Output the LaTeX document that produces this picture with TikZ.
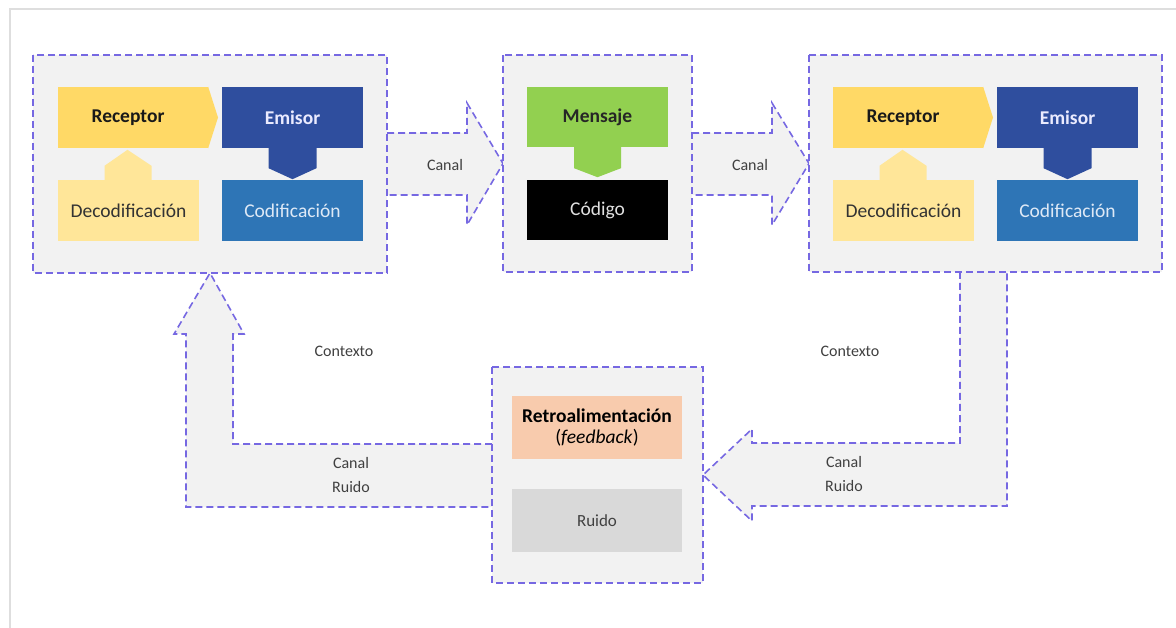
\documentclass[tikz,border=0pt]{standalone}
\usepackage{fontspec}
\setmainfont{Carlito}
\usetikzlibrary{calc}
\definecolor{dashc}{RGB}{118,104,226}
\definecolor{panel}{RGB}{242,242,242}
\definecolor{framegray}{RGB}{222,222,222}
\definecolor{recyel}{RGB}{255,217,102}
\definecolor{decyel}{RGB}{255,230,153}
\definecolor{emiblue}{RGB}{47,78,158}
\definecolor{codblue}{RGB}{46,117,182}
\definecolor{mengreen}{RGB}{146,208,80}
\definecolor{retropeach}{RGB}{248,203,173}
\definecolor{ruidogray}{RGB}{217,217,217}
\definecolor{labelc}{RGB}{64,64,64}
\definecolor{lighttxt}{RGB}{222,233,246}
\begin{document}
\begin{tikzpicture}[x=1pt,y=-1pt,
  txt/.style={font=\fontsize{19.5}{23}\selectfont},
  btxt/.style={font=\fontsize{19.5}{23}\selectfont\bfseries},
  gshape/.style={inner sep=0pt, outer sep=0pt},
  groupline/.style={draw=dashc, dash pattern=on 7pt off 4pt, line width=1.6pt, fill=panel},
  blockarrow/.style={draw=dashc, dash pattern=on 7pt off 4pt, line width=1.6pt, fill=panel},
  box/.style={inner sep=0pt, minimum width=141pt, minimum height=61pt, txt},
  lbl/.style={text=labelc, font=\fontsize{16}{20}\selectfont, align=center}
]
\useasboundingbox (0,0) rectangle (1176,628);
\draw[framegray, line width=1.5pt] (10,628) -- (10,9) -- (1176,9);

% group frames (placed first for anchors, drawn after the arrows)
\node[gshape, minimum width=354pt, minimum height=218pt] (g1) at (210,164) {};
\node[gshape, minimum width=189pt, minimum height=217pt] (g2) at (597.5,163.5) {};
\node[gshape, minimum width=353pt, minimum height=217pt] (g3) at (985.5,163.5) {};
\node[gshape, minimum width=211pt, minimum height=216pt] (g4) at (597.5,475) {};

% block arrows
\path[blockarrow] (g1.east |- 0,133) -- (467,133) -- (467,103) -- (g2.west) -- (467,225) -- (467,195) -- (g1.east |- 0,195);
\path[blockarrow] (g2.east |- 0,133) -- (772,133) -- (772,103) -- (g3.west) -- (772,225) -- (772,195) -- (g2.east |- 0,195);
\path[blockarrow] (g4.west |- 0,444) -- (233,444) -- (233,334) -- (244,334) -- (g1.south) -- (174,334) -- (186,334) -- (186,507) -- (g4.west |- 0,507);
\path[blockarrow] (960,0 |- g3.south) -- (960,443) -- (752,443) -- (752,429) -- (g4.east) -- (752,521) -- (752,506) -- (1007,506) -- (1007,0 |- g3.south);

% group frames drawn
\foreach \g in {g1,g2,g3,g4}
  \path[groupline] (\g.north west) rectangle (\g.south east);

% left group
\node[box, fill=recyel, minimum width=150pt] (rec1) at (133,117.5) {};
\fill[recyel] (rec1.north east) -- (218,117.5) -- (rec1.south east) -- cycle;
\node[btxt, text=black!90] (rec1t) at (128,117.5) {Receptor};
\node[box, fill=emiblue, text=white!92!blue, btxt] (emi1) at (292.5,117.5) {Emisor};
\node[box, fill=decyel, text=black!80] (dec1) at (128.5,210.5) {Decodificación};
\node[box, fill=codblue, text=lighttxt] (cod1) at (292.5,210.5) {Codificación};
\fill[emiblue] ($(emi1.south)+(-24,0)$) -- ++(0,20) -- ($(emi1.south)+(0,31)$) -- ($(emi1.south)+(24,20)$) -- ($(emi1.south)+(24,0)$) -- cycle;
\fill[decyel] ($(dec1.north)+(-24,0)$) -- ++(0,-14) -- ($(dec1.north)+(-1,-30)$) -- ($(dec1.north)+(23,-14)$) -- ($(dec1.north)+(23,0)$) -- cycle;

% middle group
\node[box, fill=mengreen, minimum height=60pt, text=black!85, btxt] (men) at (597.5,117) {Mensaje};
\node[box, fill=black, minimum height=60pt, text=white!88!black] (cog) at (597.5,210) {Código};
\fill[mengreen] ($(men.south)+(-23.5,0)$) -- ++(0,21) -- ($(men.south)+(0,30)$) -- ($(men.south)+(23.5,21)$) -- ($(men.south)+(23.5,0)$) -- cycle;

% right group
\node[box, fill=recyel, minimum width=150pt] (rec2) at (908,117.5) {};
\fill[recyel] (rec2.north east) -- (993,117.5) -- (rec2.south east) -- cycle;
\node[btxt, text=black!90] (rec2t) at (903,117.5) {Receptor};
\node[box, fill=emiblue, text=white!92!blue, btxt] (emi2) at (1067.5,117.5) {Emisor};
\node[box, fill=decyel, text=black!80] (dec2) at (903.5,210.5) {Decodificación};
\node[box, fill=codblue, text=lighttxt] (cod2) at (1067.5,210.5) {Codificación};
\fill[emiblue] ($(emi2.south)+(-24,0)$) -- ++(0,20) -- ($(emi2.south)+(0,31)$) -- ($(emi2.south)+(24,20)$) -- ($(emi2.south)+(24,0)$) -- cycle;
\fill[decyel] ($(dec2.north)+(-24,0)$) -- ++(0,-14) -- ($(dec2.north)+(-1,-30)$) -- ($(dec2.north)+(23,-14)$) -- ($(dec2.north)+(23,0)$) -- cycle;

% feedback group
\node[box, fill=retropeach, minimum width=170pt, minimum height=63pt, align=center, text=black] (retro) at (597,427.5)
  {\textbf{Retroalimentación}\\[-2pt](\textit{feedback})};
\node[box, fill=ruidogray, minimum width=170pt, minimum height=63pt, text=labelc, font=\fontsize{17}{20}\selectfont] (ruido) at (597,520.5) {Ruido};

% labels
\node[lbl] (c1) at (445,165) {Canal};
\node[lbl] (c2) at (750,165) {Canal};
\node[lbl] (ctx1) at (344,351) {Contexto};
\node[lbl] (ctx2) at (850,351) {Contexto};
\node[lbl] (cr1) at (351,475.5) {Canal\\[4pt]Ruido};
\node[lbl] (cr2) at (844,474.5) {Canal\\[4pt]Ruido};
\end{tikzpicture}
\end{document}
